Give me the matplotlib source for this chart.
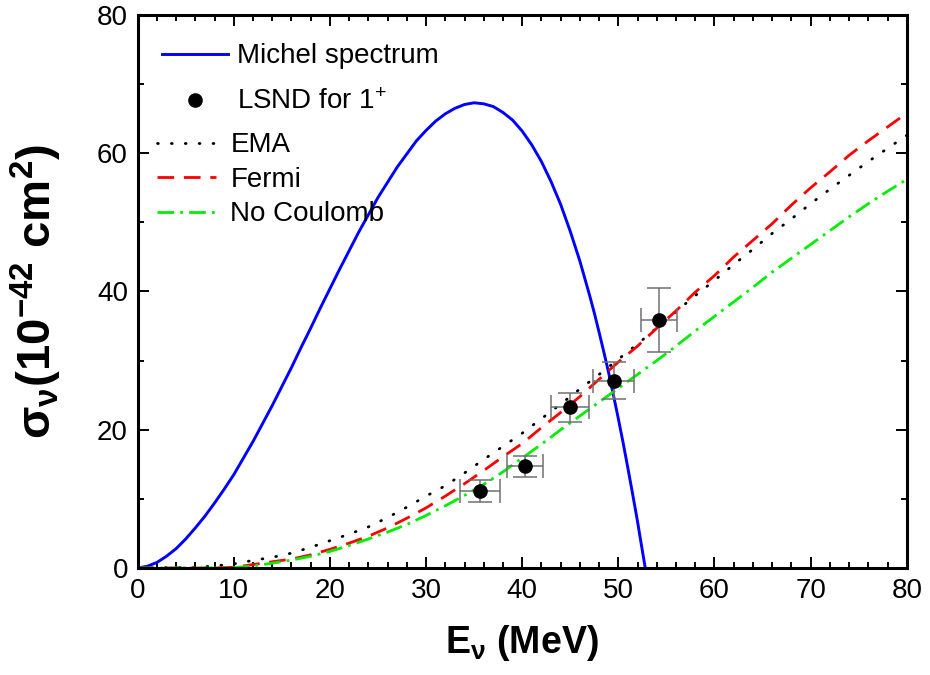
import numpy as np
import matplotlib
matplotlib.use('Agg')
import matplotlib.pyplot as plt
from matplotlib.ticker import MultipleLocator

plt.rcParams['font.family'] = ['Liberation Sans', 'DejaVu Sans']
plt.rcParams['mathtext.default'] = 'regular'

# Michel spectrum (arbitrary normalisation)
michel_e = [0, 1, 2, 3, 4, 5, 6, 7, 8, 9, 10, 11, 12, 13, 14, 15, 16, 17, 18, 19,
            20, 21, 22, 23, 24, 25, 26, 27, 28, 29, 30, 31, 32, 33, 34, 35, 36, 37,
            38, 39, 40, 41, 42, 43, 44, 45, 46, 47, 47.5, 48, 48.5, 49, 49.5, 50,
            50.5, 51, 51.5, 52, 52.2, 52.5, 52.8]
michel_s = [0, 0.25, 0.8, 1.7, 2.8, 4.2, 5.8, 7.5, 9.4, 11.4, 13.5, 15.9, 18.3,
            20.9, 23.5, 26.25, 29.0, 31.9, 34.7, 37.6, 40.4, 43.2, 45.9, 48.6, 51.1,
            53.6, 55.8, 58.0, 59.9, 61.8, 63.3, 64.65, 65.7, 66.5, 67.05, 67.3, 67.15,
            66.75, 65.9, 64.8, 63.2, 61.2, 58.8, 55.9, 52.6, 48.7, 44.4, 39.5, 36.9,
            34.1, 31.2, 28.2, 24.95, 21.6, 18.1, 14.4, 10.6, 6.7, 5.0, 2.5, 0]

# cross sections vs neutrino energy
e_nu = [0, 6, 8, 10, 12, 14, 16, 18, 20, 22, 24, 26, 28, 30, 32, 34, 36, 38, 40,
        42, 44, 46, 48, 50, 52, 54, 56, 58, 60, 62, 64, 66, 68, 70, 72, 74, 76, 78, 80]
sig_ema = [0, 0.1, 0.3, 0.6, 1.1, 1.55, 2.15, 3.0, 3.95, 4.9, 5.95, 7.3, 8.8, 10.4,
           11.9, 13.75, 15.7, 17.6, 19.5, 21.6, 23.7, 25.9, 28.0, 30.2, 32.4, 34.75,
           37.1, 39.4, 41.6, 43.9, 46.1, 48.4, 50.5, 52.7, 54.8, 56.8, 58.8, 60.7, 62.6]
sig_fermi = [0, 0, 0, 0.1, 0.5, 0.9, 1.3, 1.9, 2.7, 3.6, 4.6, 5.8, 7.2, 8.7, 10.4,
             12.2, 14.1, 16.1, 18.0, 20.3, 22.5, 24.8, 27.3, 29.8, 32.1, 34.7, 37.2,
             39.9, 42.3, 45.0, 47.4, 49.8, 52.5, 55.0, 57.3, 59.7, 61.8, 63.8, 65.8]
sig_nocoul = [0, 0, 0, 0.05, 0.3, 0.7, 1.15, 1.7, 2.4, 3.25, 4.2, 5.2, 6.3, 7.6, 9.0,
              10.5, 12.1, 13.9, 15.9, 17.9, 20.0, 22.0, 24.0, 26.0, 28.0, 30.0, 32.1,
              34.3, 36.4, 38.5, 40.6, 42.8, 44.8, 46.8, 48.8, 50.8, 52.7, 54.5, 56.2]

# LSND data for the 1+ transition
lsnd_e = [35.6, 40.3, 44.95, 49.5, 54.25]
lsnd_s = [11.2, 14.7, 23.25, 27.1, 35.9]
lsnd_de = [2.1, 1.9, 2.0, 2.1, 1.9]
lsnd_ds = [1.6, 1.55, 2.1, 2.65, 4.65]

fig = plt.figure(figsize=(9.3, 6.75), dpi=100)
ax = fig.add_axes([0.148, 0.1585, 0.827, 0.8193])

l_michel, = ax.plot(michel_e, michel_s, color='#0000ff', lw=2.1, label='Michel spectrum')

eb = ax.errorbar(lsnd_e, lsnd_s, xerr=lsnd_de, yerr=lsnd_ds, fmt='none',
                 ecolor='#707070', elinewidth=1.1, capsize=8.5, capthick=1.1, zorder=3)
for cap in eb[1]:
    cap.set_color('black')
l_lsnd, = ax.plot(lsnd_e, lsnd_s, 'o', color='black', ms=9.5,
                  label='LSND for 1$^{+}$', zorder=4)

l_ema, = ax.plot(e_nu, sig_ema, color='black', lw=2.0, dashes=(0.3, 4.7),
                 dash_capstyle='round', label='EMA')
l_fermi, = ax.plot(e_nu, sig_fermi, color='#ff0000', lw=2.0, dashes=(6, 3.5), label='Fermi')
l_nocoul, = ax.plot(e_nu, sig_nocoul, color='#00ee00', lw=2.0, dashes=(6, 2.2, 1, 2.2),
                    label='No Coulomb')

ax.set_xlim(0, 80)
ax.set_ylim(0, 80)
ax.xaxis.set_major_locator(MultipleLocator(10))
ax.xaxis.set_minor_locator(MultipleLocator(2))
ax.yaxis.set_major_locator(MultipleLocator(20))
ax.yaxis.set_minor_locator(MultipleLocator(10))
ax.tick_params(which='both', direction='in', top=True, right=True, width=1.4,
               labelsize=20, pad=7)
ax.tick_params(which='major', length=8)
ax.tick_params(which='minor', length=4)
for sp in ax.spines.values():
    sp.set_linewidth(2.2)

ax.set_xlabel('E$_{ν}$ (MeV)', fontsize=27, fontweight='bold', labelpad=14)
ax.set_ylabel('σ$_{ν}$(10$^{-42}$ cm$^{2}$)', fontsize=34, fontweight='bold', labelpad=24)

leg1 = ax.legend(handles=[l_michel, l_lsnd], loc='upper left', frameon=False,
                 fontsize=20, handlelength=2.35, handletextpad=0.35, labelspacing=0.72,
                 borderpad=0.4, borderaxespad=0, bbox_to_anchor=(0.0176, 0.969),
                 numpoints=1)
ax.add_artist(leg1)
ax.legend(handles=[l_ema, l_fermi, l_nocoul], loc='upper left', frameon=False,
          fontsize=20, handlelength=2.15, handletextpad=0.5, labelspacing=0.31,
          borderpad=0.4, borderaxespad=0, bbox_to_anchor=(0.0104, 0.808))

fig.savefig('out.png', dpi=100)
